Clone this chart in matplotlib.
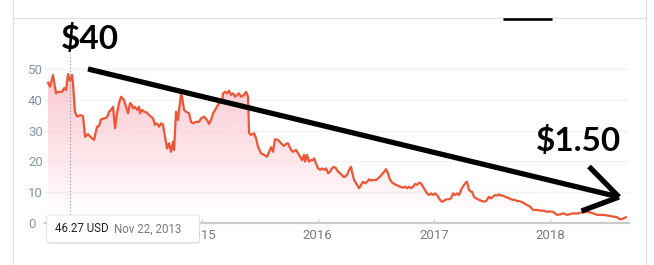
import numpy as np
import matplotlib
matplotlib.use("Agg")
import matplotlib.pyplot as plt
from matplotlib.lines import Line2D
from matplotlib.patches import PathPatch, FancyBboxPatch

# ---------------- data (decimal year, USD) ----------------
dates = [
    2013.678, 2013.695, 2013.721, 2013.747, 2013.764, 2013.799, 2013.816, 2013.833, 2013.850, 2013.867,
    2013.885, 2013.893, 2013.910, 2013.928, 2013.954, 2013.979, 2013.997, 2014.022, 2014.048, 2014.074,
    2014.100, 2014.117, 2014.134, 2014.160, 2014.186, 2014.203, 2014.220, 2014.238, 2014.255, 2014.272,
    2014.289, 2014.307, 2014.332, 2014.350, 2014.367, 2014.384, 2014.401, 2014.410, 2014.427, 2014.444,
    2014.462, 2014.470, 2014.487, 2014.505, 2014.530, 2014.548, 2014.565, 2014.582, 2014.599, 2014.616,
    2014.634, 2014.651, 2014.668, 2014.685, 2014.703, 2014.720, 2014.737, 2014.754, 2014.763, 2014.780,
    2014.797, 2014.806, 2014.823, 2014.832, 2014.849, 2014.866, 2014.892, 2014.909, 2014.926, 2014.952,
    2014.978, 2014.995, 2015.021, 2015.047, 2015.064, 2015.081, 2015.099, 2015.124, 2015.150, 2015.176,
    2015.185, 2015.202, 2015.219, 2015.236, 2015.254, 2015.271, 2015.288, 2015.305, 2015.322, 2015.340,
    2015.366, 2015.383, 2015.400, 2015.409, 2015.426, 2015.452, 2015.469, 2015.486, 2015.512, 2015.538,
    2015.564, 2015.581, 2015.598, 2015.615, 2015.632, 2015.658, 2015.684, 2015.710, 2015.727, 2015.744,
    2015.770, 2015.787, 2015.813, 2015.839, 2015.865, 2015.882, 2015.891, 2015.908, 2015.925, 2015.942,
    2015.960, 2015.968, 2015.985, 2016.003, 2016.020, 2016.037, 2016.054, 2016.072, 2016.089, 2016.106,
    2016.123, 2016.140, 2016.158, 2016.175, 2016.201, 2016.226, 2016.252, 2016.270, 2016.287, 2016.295,
    2016.313, 2016.338, 2016.356, 2016.373, 2016.390, 2016.407, 2016.425, 2016.442, 2016.459, 2016.476,
    2016.502, 2016.519, 2016.536, 2016.562, 2016.588, 2016.605, 2016.623, 2016.648, 2016.674, 2016.709,
    2016.734, 2016.752, 2016.769, 2016.786, 2016.803, 2016.821, 2016.838, 2016.855, 2016.872, 2016.889,
    2016.907, 2016.924, 2016.941, 2016.958, 2016.976, 2016.993, 2017.010, 2017.027, 2017.044, 2017.062,
    2017.079, 2017.096, 2017.113, 2017.131, 2017.148, 2017.165, 2017.182, 2017.199, 2017.217, 2017.234,
    2017.242, 2017.260, 2017.277, 2017.285, 2017.303, 2017.320, 2017.328, 2017.346, 2017.363, 2017.389,
    2017.415, 2017.432, 2017.449, 2017.466, 2017.475, 2017.492, 2017.509, 2017.527, 2017.544, 2017.561,
    2017.578, 2017.595, 2017.613, 2017.630, 2017.647, 2017.664, 2017.682, 2017.699, 2017.716, 2017.733,
    2017.750, 2017.776, 2017.802, 2017.828, 2017.854, 2017.888, 2017.914, 2017.940, 2017.974, 2018.000,
    2018.026, 2018.060, 2018.086, 2018.112, 2018.146, 2018.172, 2018.198, 2018.233, 2018.258, 2018.284,
    2018.319, 2018.344, 2018.370, 2018.405, 2018.430, 2018.456, 2018.491, 2018.517, 2018.551, 2018.577,
    2018.603, 2018.629, 2018.652,
]
prices = [
    45.7, 44.4, 48.2, 42.2, 42.7, 42.7, 43.9, 43.3, 48.5, 46.3,
    48.2, 45.5, 36.2, 34.6, 35.1, 34.8, 28.0, 28.9, 27.8, 27.0,
    31.3, 31.5, 33.7, 34.0, 34.4, 36.2, 36.8, 37.8, 30.8, 35.7,
    39.0, 41.1, 40.0, 37.8, 35.7, 39.0, 38.4, 37.3, 37.8, 36.8,
    37.8, 35.7, 36.8, 36.2, 35.9, 35.1, 34.6, 34.0, 31.9, 32.4,
    31.3, 32.4, 32.0, 28.0, 24.2, 25.9, 23.1, 26.4, 23.7, 36.2,
    33.5, 36.8, 41.7, 41.1, 36.8, 36.2, 35.7, 32.9, 32.4, 32.9,
    32.9, 34.0, 34.6, 33.5, 32.2, 33.5, 35.7, 37.3, 39.0, 39.5,
    42.2, 42.7, 42.2, 43.1, 41.7, 42.2, 41.1, 41.7, 42.2, 41.1,
    41.7, 42.7, 41.1, 29.2, 28.6, 29.2, 27.5, 24.8, 22.6, 22.1,
    21.5, 23.1, 24.6, 23.1, 27.2, 27.0, 25.9, 25.0, 25.7, 25.9,
    23.7, 23.1, 23.7, 22.1, 20.4, 22.1, 19.9, 22.1, 19.9, 20.4,
    20.4, 21.0, 19.3, 17.7, 17.2, 17.7, 17.2, 17.7, 16.1, 16.6,
    17.7, 18.2, 17.7, 16.6, 15.8, 14.8, 15.5, 17.2, 18.2, 16.6,
    13.9, 12.3, 11.2, 12.3, 13.3, 12.8, 13.3, 14.1, 13.7, 13.9,
    13.9, 14.4, 15.0, 16.1, 17.4, 16.1, 13.9, 12.8, 12.3, 11.7,
    11.4, 11.7, 11.2, 11.7, 11.2, 11.7, 12.6, 12.3, 13.0, 12.8,
    11.7, 10.6, 9.5, 9.0, 9.5, 9.0, 9.5, 9.0, 7.9, 7.0,
    6.8, 7.4, 7.6, 7.6, 7.9, 9.5, 9.0, 9.5, 9.0, 10.6,
    11.2, 12.3, 13.1, 13.3, 10.6, 10.1, 10.1, 8.4, 7.9, 7.4,
    7.0, 6.8, 7.0, 7.9, 8.4, 7.9, 8.4, 9.0, 8.8, 9.2,
    8.8, 8.8, 8.4, 8.2, 7.9, 7.6, 7.4, 7.4, 7.0, 7.0,
    6.8, 6.3, 5.7, 5.2, 4.1, 4.1, 3.9, 3.9, 3.5, 3.6,
    3.5, 2.5, 2.6, 3.0, 2.5, 2.7, 3.0, 2.9, 3.2, 3.3,
    3.5, 3.3, 3.0, 2.5, 2.5, 2.5, 2.3, 2.1, 1.9, 1.7,
    1.0, 1.3, 1.7,
]
year_ticks = [2014, 2015, 2016, 2017, 2018]
# the 2014 label sits under the hover tooltip in the reference, so it is not shown
year_labels = ["", "2015", "2016", "2017", "2018"]
price_ticks = [0, 10, 20, 30, 40, 50]
tooltip_date = 2013.867
tooltip_price_text = "46.27 USD"
tooltip_date_text = "Nov 22, 2013"
start_label = "$40"
end_label = "$1.50"

# ---------------- figure ----------------
W, H = 654, 265
fig = plt.figure(figsize=(W / 100, H / 100), dpi=100)
fig.patch.set_facecolor("white")

def px(x, y):
    return (x / 100.0, (H - y) / 100.0)

ax = fig.add_axes([45 / W, (H - 222.5) / H, 584 / W, (222.5 - 62) / H])
ax.set_xlim(2013.652, 2018.680)
ax.set_ylim(0, 52.45)

line_color = "#ee5533"

# gradient fill under curve
ny = 300
vals = np.linspace(0, 52.45, ny)
alpha = np.clip((vals - 4.0) / 40.0, 0, 1) ** 0.85 * 0.95
img = np.zeros((ny, 2, 4))
img[:, :, 0] = 252 / 255
img[:, :, 1] = 203 / 255
img[:, :, 2] = 213 / 255
img[:, :, 3] = alpha[:, None]
im = ax.imshow(img, extent=[2013.652, 2018.680, 0, 52.45], origin="lower",
               aspect="auto", interpolation="bilinear", zorder=1)
poly = ax.fill_between(dates, prices, 0, facecolor="none", edgecolor="none")
clip = PathPatch(poly.get_paths()[0], transform=ax.transData,
                 facecolor="none", edgecolor="none")
ax.add_patch(clip)
im.set_clip_path(clip)

ax.plot(dates, prices, color=line_color, lw=1.6, zorder=3, solid_joinstyle="round")

# dotted hover line
ax.axvline(tooltip_date, ymin=0.03, ymax=1.05, color="#888888", lw=0.8,
           ls=(0, (1, 2)), zorder=4, clip_on=False)

# axes styling
for s in ["top", "right", "left"]:
    ax.spines[s].set_visible(False)
ax.spines["bottom"].set_color("#cccccc")
ax.spines["bottom"].set_linewidth(1.6)
ax.set_yticks(price_ticks)
ax.set_yticklabels([str(v) for v in price_ticks])
ax.set_xticks(year_ticks)
ax.set_xticklabels(year_labels)
ax.tick_params(axis="x", direction="in", length=3, width=1, color="#cccccc",
               labelcolor="#7a7a7a", labelsize=9.5, pad=5)
ax.tick_params(axis="y", length=0, labelcolor="#8494a6", labelsize=9.5, pad=12.2)
for t in ax.get_yticklabels():
    t.set_horizontalalignment("left")
    t.set_family(["Roboto", "DejaVu Sans"])
for t in ax.get_xticklabels():
    t.set_family(["Roboto", "DejaVu Sans"])
ax.grid(axis="y", color="#f1f1f1", lw=1)
ax.set_axisbelow(True)

T = fig.dpi_scale_trans

# page frame lines
fig.add_artist(Line2D([px(12.5, 0)[0], px(646, 0)[0]], [px(0, 18.3)[1]] * 2,
                      transform=T, color="#e0e0e0", lw=0.9))
fig.add_artist(Line2D([px(12.5, 0)[0]] * 2, [0, H / 100], transform=T,
                      color="#e0e0e0", lw=0.9))
fig.add_artist(Line2D([px(646, 0)[0]] * 2, [0, H / 100], transform=T,
                      color="#e0e0e0", lw=0.9))
fig.add_artist(Line2D([px(503, 0)[0], px(552, 0)[0]], [px(0, 19)[1]] * 2,
                      transform=T, color="black", lw=1.9, solid_capstyle="butt"))

# tooltip
x0, y0, x1, y1 = 46.7, 215, 199.3, 242.3
shadow = FancyBboxPatch(px(x0 - 0.5, y1 + 1.5), (x1 - x0 + 1) / 100, (y1 - y0 + 1) / 100,
                        boxstyle="round,pad=0,rounding_size=0.03", transform=T,
                        facecolor="#000000", alpha=0.12, edgecolor="none", zorder=5)
box = FancyBboxPatch(px(x0, y1), (x1 - x0) / 100, (y1 - y0) / 100,
                     boxstyle="round,pad=0,rounding_size=0.025", transform=T,
                     facecolor="white", edgecolor="#e4e4e4", lw=0.6, zorder=6)
fig.add_artist(shadow)
fig.add_artist(box)
fig.text(*px(55, 229), tooltip_price_text, transform=T, ha="left", va="center",
         fontsize=8.3, color="#222222", family=["Roboto", "DejaVu Sans"], zorder=7)
fig.text(*px(114, 229), tooltip_date_text, transform=T, ha="left", va="center",
         fontsize=8.3, color="#777777", family=["Roboto", "DejaVu Sans"], zorder=7)

# annotations
fig.text(*px(61, 49), start_label, transform=T, ha="left", va="baseline",
         fontsize=24, fontweight="bold", color="black", family=["Lato", "DejaVu Sans"], zorder=8)
fig.text(*px(536, 151.5), end_label, transform=T, ha="left", va="baseline",
         fontsize=24, fontweight="bold", color="black", family=["Lato", "DejaVu Sans"], zorder=8)

def seg(p, q, lw=3.8):
    a, b = px(*p), px(*q)
    fig.add_artist(Line2D([a[0], b[0]], [a[1], b[1]], transform=T, color="black",
                          lw=lw, solid_capstyle="butt", zorder=8))

tip = (619, 197)
seg((88, 69), tip)
seg((589, 166.5), tip)
seg((581.5, 211), tip)

fig.savefig("out.png", dpi=100)
